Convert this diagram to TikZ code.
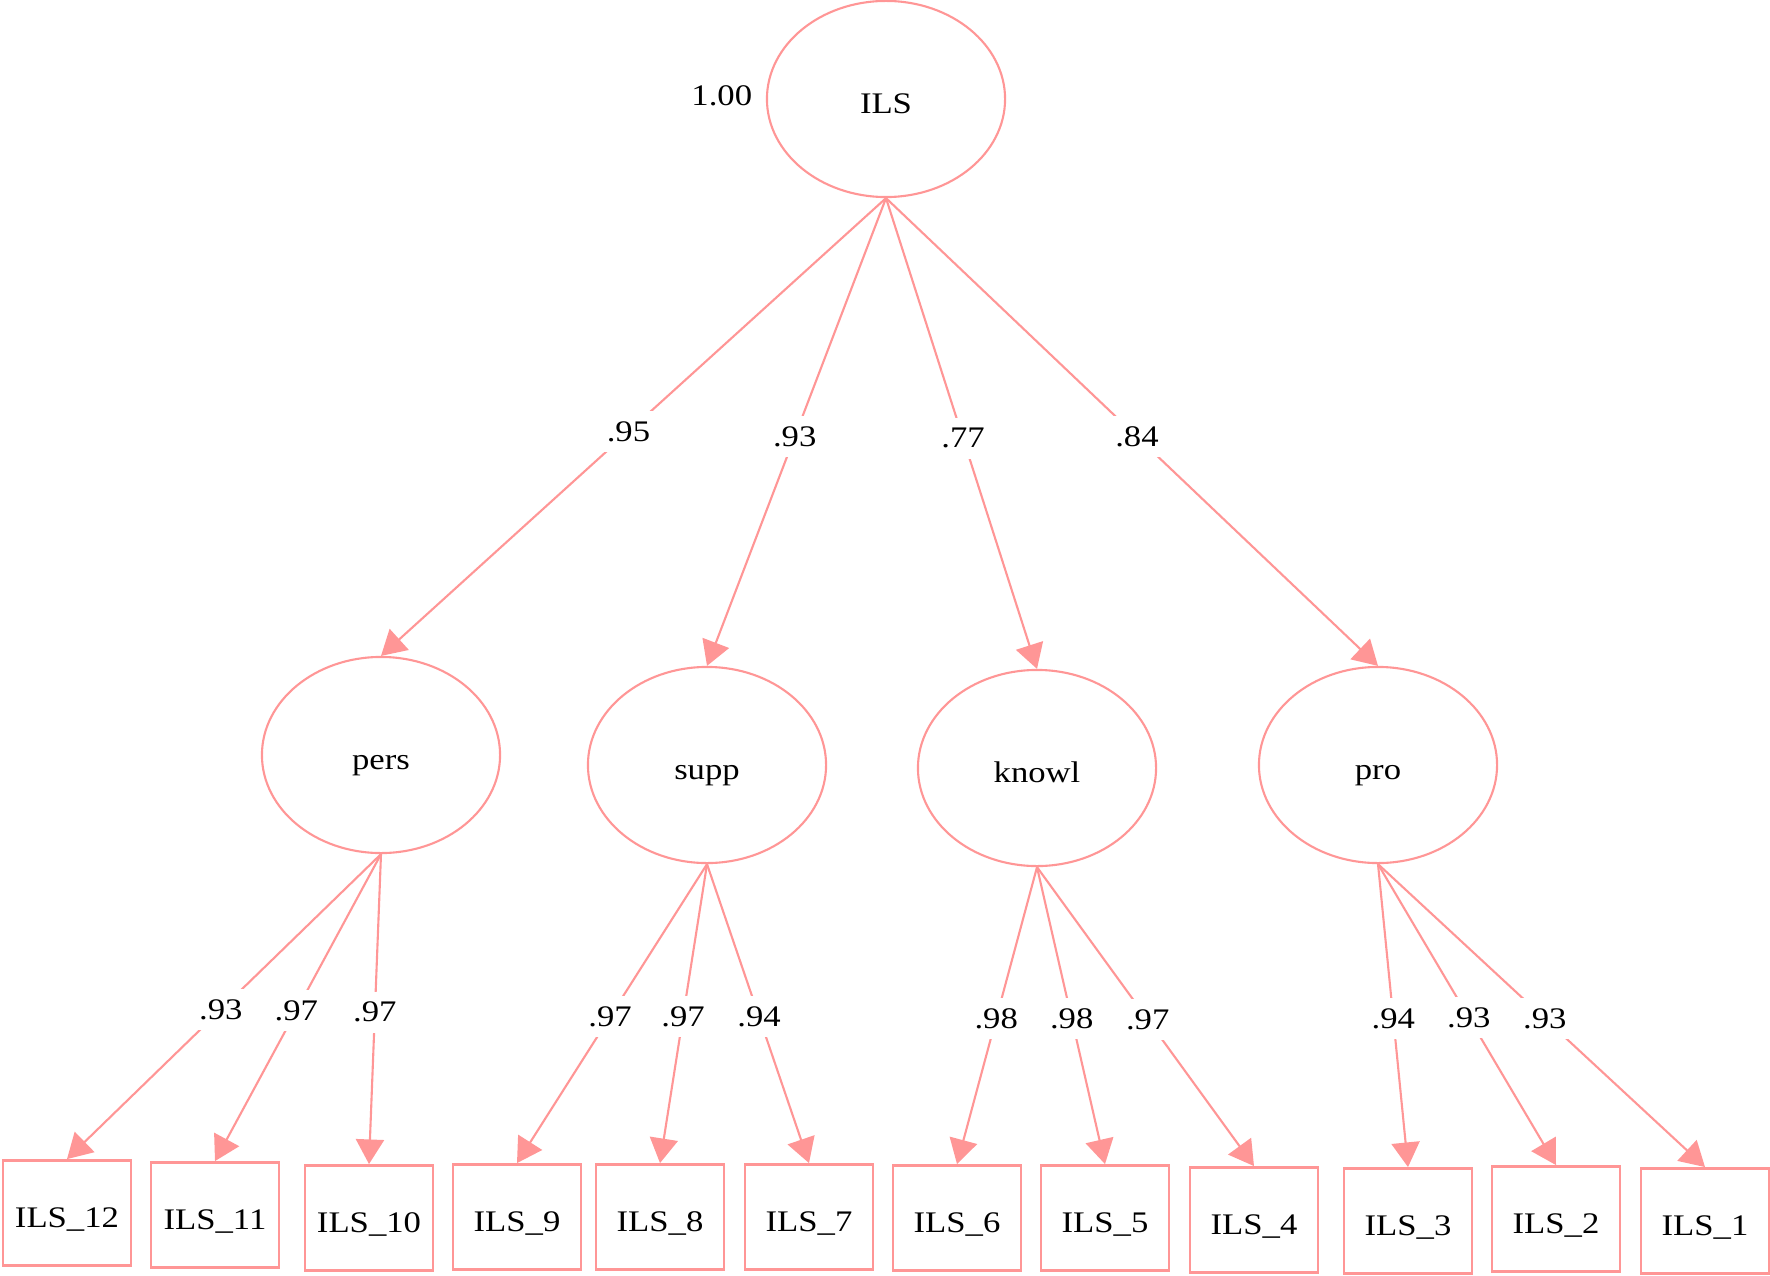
\documentclass[tikz,border=0pt]{standalone}
\usepackage{fontspec}
\setmainfont[FakeStretch=1.16]{Liberation Serif}
\usepackage{tikz}
\usetikzlibrary{shapes.geometric,arrows.meta,positioning}
\definecolor{semline}{RGB}{255,150,150}

\begin{document}
\begin{tikzpicture}[
    x=0.01cm, y=-0.01cm,
    font=\fontsize{8.5}{10}\selectfont,
    latent/.style={draw=semline, line width=0.6pt, ellipse, inner sep=0pt,
      text height=8.3pt, text depth=0pt,
      minimum width=2.38cm, minimum height=1.96cm},
    item/.style={draw=semline, line width=0.8pt, inner sep=0pt,
      text height=8.3pt, text depth=0pt,
      minimum width=1.28cm, minimum height=1.05cm},
    load/.style={draw=semline, line width=0.6pt, -{Triangle[length=7pt,width=8pt]}},
    coef/.style={fill=white, inner sep=3pt, pos=0.51}
  ]
  \useasboundingbox (0,0) rectangle (1770,1276);

  % latent factors
  \node[latent] (ils) at (886,99) {ILS};
  \node[latent] (pers) at (381,755) {pers};
  \node[latent] (supp) at (707,765) {supp};
  \node[latent] (knowl) at (1037,768) {knowl};
  \node[latent] (pro) at (1378,765) {pro};
  \node[inner sep=0pt, left=0.13cm of ils, yshift=1pt] (var) {1.00};

  % items
  \node[item] (i12) at (67,1213) {ILS\_12};
  \node[item] (i11) at (215,1215) {ILS\_11};
  \node[item] (i10) at (369,1218) {ILS\_10};
  \node[item] (i9) at (517,1217) {ILS\_9};
  \node[item] (i8) at (660,1217) {ILS\_8};
  \node[item] (i7) at (809,1217) {ILS\_7};
  \node[item] (i6) at (957,1218) {ILS\_6};
  \node[item] (i5) at (1105,1218) {ILS\_5};
  \node[item] (i4) at (1254,1220) {ILS\_4};
  \node[item] (i3) at (1408,1221) {ILS\_3};
  \node[item] (i2) at (1556,1219) {ILS\_2};
  \node[item] (i1) at (1705,1221) {ILS\_1};

  % second order loadings
  \draw[load] (ils.south) -- node[coef] {.95} (pers.north);
  \draw[load] (ils.south) -- node[coef] {.93} (supp.north);
  \draw[load] (ils.south) -- node[coef] {.77} (knowl.north);
  \draw[load] (ils.south) -- node[coef] {.84} (pro.north);

  % first order loadings
  \draw[load] (pers.south) -- node[coef] {.93} (i12.north);
  \draw[load] (pers.south) -- node[coef] {.97} (i11.north);
  \draw[load] (pers.south) -- node[coef] {.97} (i10.north);
  \draw[load] (supp.south) -- node[coef] {.97} (i9.north);
  \draw[load] (supp.south) -- node[coef] {.97} (i8.north);
  \draw[load] (supp.south) -- node[coef] {.94} (i7.north);
  \draw[load] (knowl.south) -- node[coef] {.98} (i6.north);
  \draw[load] (knowl.south) -- node[coef] {.98} (i5.north);
  \draw[load] (knowl.south) -- node[coef] {.97} (i4.north);
  \draw[load] (pro.south) -- node[coef] {.94} (i3.north);
  \draw[load] (pro.south) -- node[coef] {.93} (i2.north);
  \draw[load] (pro.south) -- node[coef] {.93} (i1.north);
\end{tikzpicture}
\end{document}
